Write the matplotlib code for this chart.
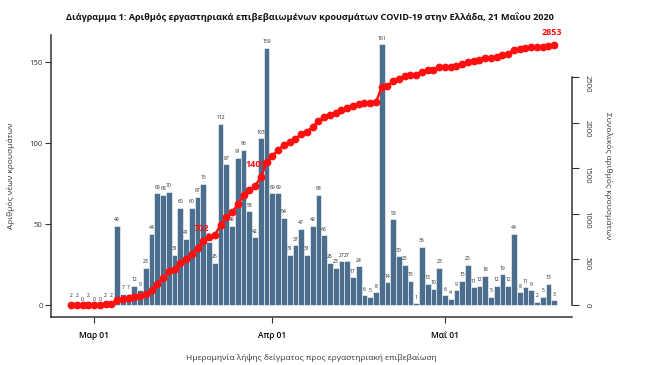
import numpy as np
import pandas as pd
import matplotlib
matplotlib.use("Agg")
import matplotlib.pyplot as plt

plt.rcParams["font.family"] = ["Open Sans", "DejaVu Sans"]

# ── data ─────────────────────────────────────────────────────────────────────
start_date = "2020-02-26"
new_cases = [
    2, 2, 0, 2, 0, 0, 2, 2,
    49, 7, 7, 12, 9, 23, 44,
    69, 68, 70, 31, 60, 41, 60, 67, 75,
    39, 26, 112, 87, 49, 91, 96, 58, 42, 103, 159,
    69, 69, 54, 31, 37, 47, 31, 49, 68, 43, 26, 23, 27, 27, 17, 24, 6, 5, 8,
    161, 14, 53, 30, 25, 15, 1, 36, 13, 10, 23, 6, 4, 9, 15, 25, 11, 12, 18,
    5, 12, 19, 12, 44, 8, 11, 9, 2, 5, 13, 3,
]
label_dates = ["2020-03-20", "2020-03-30", "2020-05-20"]
label_totals = [702, 1405, 2853]
month_ticks = ["2020-03-01", "2020-04-01", "2020-05-01"]
month_labels = ["Μαρ 01", "Απρ 01", "Μαΐ 01"]

title = ("Διάγραμμα 1: Αριθμός εργαστηριακά επιβεβαιωμένων κρουσμάτων "
         "COVID-19 στην Ελλάδα, 21 Μαΐου 2020")

dates = pd.date_range(start_date, periods=len(new_cases), freq="D")
cumulative = np.cumsum(new_cases)

BAR = "#4b6e8e"
RED = "#ff1010"
AXC = "#333333"

fig = plt.figure(figsize=(6.53, 3.65), dpi=100)
ax = fig.add_axes([0.078, 0.1315, 0.798, 0.7725])

ax.bar(dates, new_cases, width=1.0, color=BAR, edgecolor="white",
       linewidth=0.4, zorder=2)
for d, v in zip(dates, new_cases):
    ax.annotate(str(v), (d, v), xytext=(0, 2.5), textcoords="offset points",
                ha="center", va="bottom", fontsize=3.6, color="#222222",
                zorder=3)

ax.set_xlim(pd.Timestamp("2020-03-01") - pd.Timedelta(days=7.5),
            pd.Timestamp("2020-03-01") + pd.Timedelta(days=83.1))
ax.set_ylim(-7.4, 166.7)
ax.set_yticks([0, 50, 100, 150])
ax.set_xticks(pd.to_datetime(month_ticks))
ax.set_xticklabels(month_labels, fontsize=6, fontweight="semibold")
ax.tick_params(axis="y", labelsize=5.5, length=4, width=0.8, color=AXC,
               labelcolor="#333333", pad=2)
ax.tick_params(axis="x", length=4, width=0.8, color=AXC, pad=6)
for s in ["top", "right"]:
    ax.spines[s].set_visible(False)
for s in ["left", "bottom"]:
    ax.spines[s].set_color(AXC)
    ax.spines[s].set_linewidth(1.1)
ax.set_ylabel("Αριθμός νέων κρουσμάτων", fontsize=6, color="#333333",
              labelpad=10)
ax.set_xlabel("Ημερομηνία λήψης δείγματος προς εργαστηριακή επιβεβαίωση",
              fontsize=6, color="#333333", labelpad=10)

# cumulative line on the right axis
ax2 = ax.twinx()
ax2.plot(dates, cumulative, color=RED, linewidth=1.8, marker="o",
         markersize=4.6, zorder=5)
ax2.set_ylim(-131, 2961)
ax2.set_yticks([0, 500, 1000, 1500, 2000, 2500])
ax2.spines["right"].set_bounds(0, 2500)
ax2.spines["right"].set_color(AXC)
ax2.spines["right"].set_linewidth(1.1)
for s in ["top", "left", "bottom"]:
    ax2.spines[s].set_visible(False)
ax2.tick_params(axis="y", labelsize=5.5, length=5, width=0.8, color=AXC,
                labelcolor="#333333", labelrotation=270, pad=3)
ax2.set_ylabel("Συνολικός αριθμός κρουσμάτων", fontsize=6, color="#333333",
               rotation=270, labelpad=16)

for d, v in zip(pd.to_datetime(label_dates), label_totals):
    last = d == dates[-1]
    ax2.annotate(str(v), (d, v), xytext=(-2, 6) if last else (4, 6),
                 textcoords="offset points", ha="center" if last else "right",
                 va="bottom", fontsize=6.5, fontweight="bold", color=RED,
                 zorder=4)

fig.text(0.475, 1 - 17 / 365, title, ha="center", va="center", fontsize=6.6,
         fontweight="bold", color="#111111")

fig.savefig("out.png", dpi=100)
